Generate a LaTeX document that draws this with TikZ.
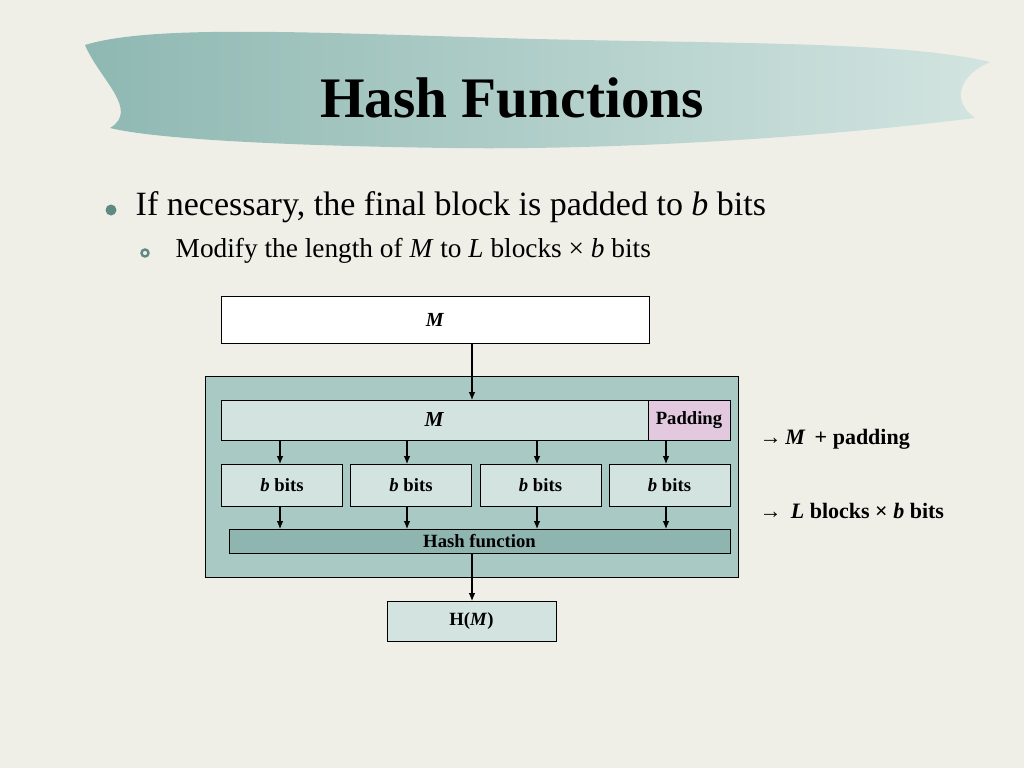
\documentclass[tikz,border=0pt]{standalone}
\usepackage{fontspec}
\setmainfont{Liberation Serif}
\usetikzlibrary{arrows.meta}
\begin{document}
\begin{tikzpicture}[x=0.75pt,y=-0.75pt,
  box/.style={draw=black,line width=0.6pt,inner sep=0pt},
  lbl/.style={font=\fontsize{14}{16}\selectfont\bfseries,text=black},
  arr/.style={-{Latex[length=6pt,width=5pt]},line width=0.8pt}]
\definecolor{bg}{HTML}{EFEFE8}
\definecolor{teal1}{HTML}{8FB8B2}
\definecolor{teal2}{HTML}{D2E4E0}
\definecolor{outer}{HTML}{A9C9C5}
\definecolor{light}{HTML}{D3E3E0}
\definecolor{pad}{HTML}{E2C9DF}
\definecolor{hashc}{HTML}{8FB5B0}
\definecolor{bul}{HTML}{5F8A84}
\useasboundingbox (0,0) rectangle (1024,768);
\fill[bg] (0,0) rectangle (1024,768);
% title brush
\shade[left color=teal1,right color=teal2]
 (85,45) .. controls (150,25) and (300,32) .. (500,38)
 .. controls (700,44) and (900,40) .. (990,62)
 .. controls (960,75) and (950,100) .. (975,118)
 .. controls (800,140) and (600,150) .. (450,148)
 .. controls (300,146) and (160,140) .. (110,128)
 .. controls (140,110) and (100,80) .. (85,45) -- cycle;
\node[font=\fontsize{43}{48}\selectfont\bfseries] (title) at (512,98) {Hash Functions};
% bullets
\fill[bul] (111,210) circle (5.5);
\node[anchor=west,font=\fontsize{25.5}{30}\selectfont] (b1) at (131,207) {If necessary, the final block is padded to \textit{b} bits};
\draw[bul,line width=1.8pt] (145,253) circle (3.5);
\node[anchor=west,font=\fontsize{20.5}{24}\selectfont] (b2) at (171,251) {Modify the length of \textit{M} to \textit{L} blocks × \textit{b} bits};
% diagram
\node[box,fill=white,minimum width=428*0.75pt,minimum height=47*0.75pt,lbl,font=\fontsize{15}{17}\selectfont\bfseries] (m0) at (435,319.5) {\textit{M}};
\node[box,fill=outer,minimum width=533*0.75pt,minimum height=201*0.75pt] (outer) at (471.5,476.5) {};
\node[box,fill=light,minimum width=427*0.75pt,minimum height=40*0.75pt,lbl,font=\fontsize{16}{18}\selectfont\bfseries] (m1) at (434.5,420) {\textit{M}};
\node[box,fill=pad,minimum width=82*0.75pt,minimum height=40*0.75pt,lbl] (pad) at (689,420) {Padding};
\foreach \i/\x in {1/282,2/411,3/540.5,4/669.5}{
  \node[box,fill=light,minimum width=121*0.75pt,minimum height=42*0.75pt,lbl] (bb\i) at (\x,485) {\textit{b} bits};
}
\node[box,fill=hashc,minimum width=501*0.75pt,minimum height=24*0.75pt,lbl] (hf) at (479.5,541) {Hash function};
\node[box,fill=light,minimum width=169*0.75pt,minimum height=40*0.75pt,lbl] (hm) at (471.5,621) {H(\textit{M})};
\foreach \x/\n in {280/1,407/2,537/3,666/4}{
  \coordinate (ta\n) at (\x,440); \coordinate (tb\n) at (\x,464);
  \coordinate (tc\n) at (\x,506); \coordinate (td\n) at (\x,529);
  \draw[arr] (ta\n) -- (tb\n);
  \draw[arr] (tc\n) -- (td\n);
}
\coordinate (a1) at (472,343); \coordinate (a2) at (472,400);
\coordinate (a3) at (472,553); \coordinate (a4) at (472,601);
\draw[arr] (a1) -- (a2);
\draw[arr] (a3) -- (a4);
\node[anchor=west,font=\fontsize{16.5}{19}\selectfont\bfseries] (r1) at (755,439) {{\mdseries →}\,\textit{M}\, + padding};
\node[anchor=west,font=\fontsize{16.5}{19}\selectfont\bfseries] (r2) at (755,511) {{\mdseries →}\, \textit{L} blocks × \textit{b} bits};
\end{tikzpicture}
\end{document}
